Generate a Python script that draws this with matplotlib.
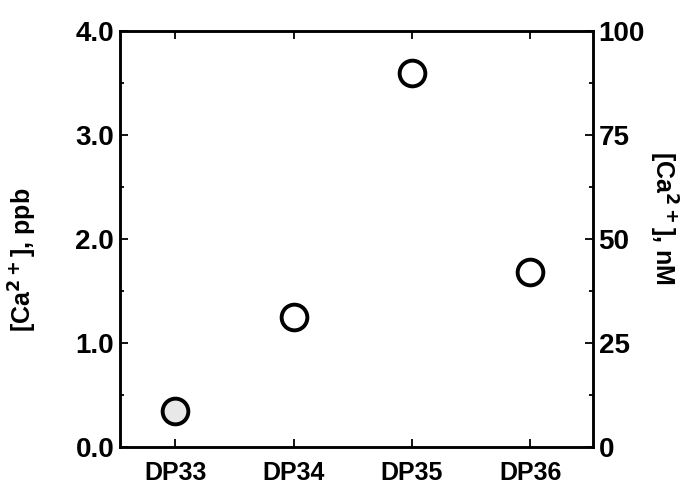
import matplotlib.pyplot as plt
from matplotlib.ticker import MultipleLocator

plt.rcParams['font.family'] = ['Liberation Sans', 'DejaVu Sans']
plt.rcParams['font.weight'] = 'bold'
plt.rcParams['axes.labelweight'] = 'bold'
plt.rcParams['mathtext.default'] = 'bf'

# data
samples = ["DP33", "DP34", "DP35", "DP36"]
ca_ppb = [0.35, 1.25, 3.60, 1.68]
face = ["#e8e8e8", "white", "white", "white"]
ppb_to_nM = 25.0

fig = plt.figure(figsize=(6.88, 4.93), dpi=100)
ax = fig.add_axes([0.174, 0.093, 0.688, 0.844])

for i, (v, fc) in enumerate(zip(ca_ppb, face)):
    ax.plot(i, v, 'o', ms=18.5, mfc=fc, mec='black', mew=2.8)

ax.set_xlim(-0.47, 3.53)
ax.set_ylim(0, 4.0)
ax.set_xticks(range(len(samples)))
ax.set_xticklabels(samples, fontsize=18)
ax.yaxis.set_major_locator(MultipleLocator(1.0))
ax.yaxis.set_minor_locator(MultipleLocator(0.5))
ax.set_yticklabels([f"{t:.1f}" for t in ax.get_yticks()], fontsize=20)
ax.tick_params(axis='both', which='both', direction='in', top=True, width=1.3)
ax.tick_params(axis='both', which='major', length=6, pad=4)
ax.tick_params(axis='x', pad=10)
ax.tick_params(axis='y', which='minor', length=3)
ax.set_ylabel(r"[Ca$^{2+}$], ppb", fontsize=18)
ax.yaxis.set_label_coords(-0.17, 0.45)

ax2 = ax.twinx()
ax2.set_ylim(0, 4.0 * ppb_to_nM)
ax2.yaxis.set_major_locator(MultipleLocator(25))
ax2.yaxis.set_minor_locator(MultipleLocator(12.5))
ax2.set_yticklabels([f"{t:.0f}" for t in ax2.get_yticks()], fontsize=20)
ax2.tick_params(axis='y', which='both', direction='in', width=1.3)
ax2.tick_params(axis='y', which='major', length=6, pad=4)
ax2.tick_params(axis='y', which='minor', length=3)
ax2.set_ylabel(r"[Ca$^{2+}$], nM", fontsize=18, rotation=270, va='center')
ax2.yaxis.set_label_coords(1.148, 0.55)

for a in (ax, ax2):
    for s in a.spines.values():
        s.set_linewidth(1.8)

fig.savefig("out.png", dpi=100)
